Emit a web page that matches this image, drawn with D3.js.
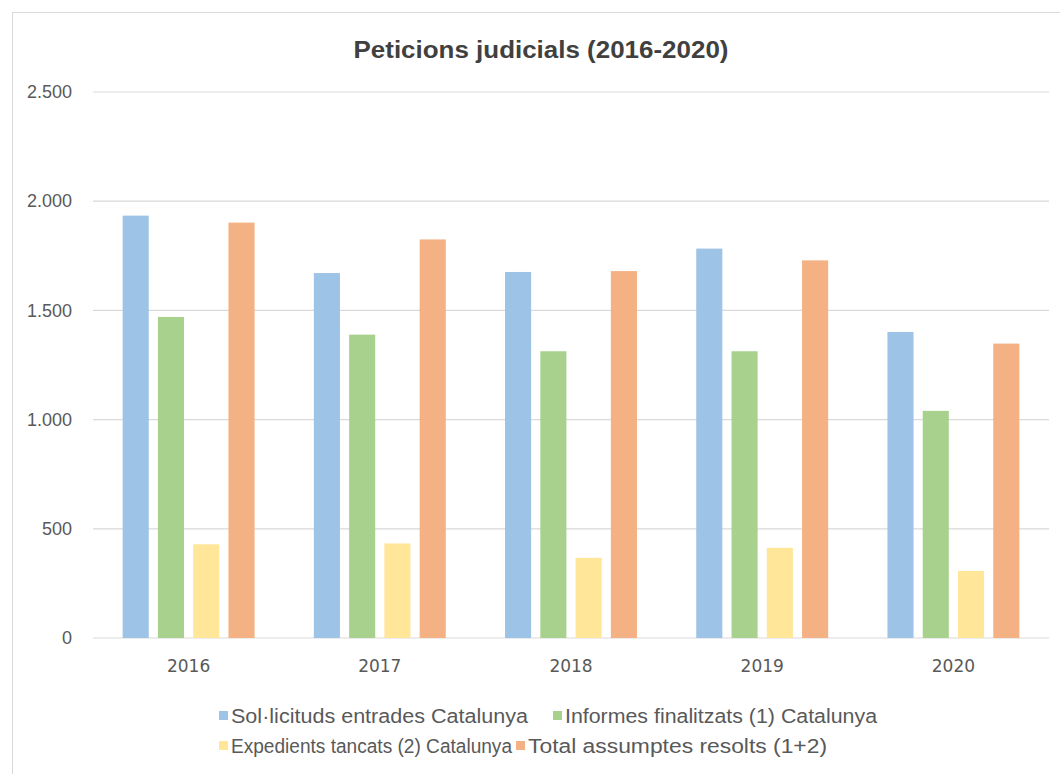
<!DOCTYPE html>
<html>
<head>
<meta charset="utf-8">
<script src="https://cdn.jsdelivr.net/npm/d3@7"></script>
<style>
  body { margin: 0; background: #fff; }
  svg { display: block; }
  .tick text { fill: #595959; }
</style>
</head>
<body>
<svg id="chart"></svg>
<script>
// Chart data
const years = ['2016', '2017', '2018', '2019', '2020'];
const seriesNames = [
    'Sol·licituds entrades Catalunya',
    'Informes finalitzats (1) Catalunya',
    'Expedients tancats (2) Catalunya',
    'Total assumptes resolts (1+2)'
];
const solicituds = [1934, 1671, 1676, 1783, 1401];
const informes = [1470, 1389, 1313, 1313, 1040];
const expedients = [429, 433, 367, 413, 307];
const totalResolts = [1902, 1825, 1680, 1729, 1348];
const yTicks = [0, 500, 1000, 1500, 2000, 2500];
const colors = ['#9dc3e6', '#a9d18e', '#ffe699', '#f4b183'];

const width = 1060, height = 774;
const margin = { top: 92, right: 11, bottom: 136, left: 93 };

const svg = d3.select('#chart')
    .attr('width', width)
    .attr('height', height);

// outer chart border
svg.append('rect')
    .attr('x', 12.5).attr('y', 12.5)
    .attr('width', width + 20).attr('height', height + 20)
    .attr('fill', 'none')
    .attr('stroke', '#d9d9d9');

svg.append('text')
    .attr('x', 541)
    .attr('y', 58)
    .attr('text-anchor', 'middle')
    .attr('font-family', 'Liberation Sans, Arial, sans-serif')
    .attr('font-size', 23)
    .attr('font-weight', 'bold')
    .attr('fill', '#404040')
    .attr('textLength', 375)
    .attr('lengthAdjust', 'spacingAndGlyphs')
    .text('Peticions judicials (2016-2020)');

const x = d3.scaleBand()
    .domain(years)
    .range([margin.left, width - margin.right])
    .paddingInner(0.31)
    .paddingOuter(0.155);

const xSub = d3.scaleBand()
    .domain(d3.range(seriesNames.length))
    .range([0, x.bandwidth()])
    .paddingInner(0.26);

const y = d3.scaleLinear()
    .domain([0, 2500])
    .range([height - margin.bottom, margin.top]);

// gridlines
svg.append('g')
    .selectAll('line')
    .data(yTicks)
    .enter()
    .append('line')
    .attr('x1', margin.left)
    .attr('x2', width - margin.right)
    .attr('y1', d => y(d))
    .attr('y2', d => y(d))
    .attr('stroke', '#d9d9d9')
    .attr('stroke-width', 1.2);

// y axis labels
const fmt = d => d3.format(',')(d).replace(/,/g, '.');
const yAxis = svg.append('g')
    .attr('transform', `translate(${margin.left - 21},0)`)
    .call(d3.axisLeft(y).tickValues(yTicks).tickFormat(fmt).tickSize(0).tickPadding(0));
yAxis.select('.domain').remove();
yAxis.selectAll('text')
    .attr('font-family', 'Liberation Sans, Arial, sans-serif')
    .attr('font-size', 18);

// bars
const allSeries = [solicituds, informes, expedients, totalResolts];
const groups = svg.append('g')
    .selectAll('g')
    .data(years)
    .enter()
    .append('g')
    .attr('transform', d => `translate(${x(d)},0)`);

groups.selectAll('rect')
    .data((d, i) => allSeries.map((s, k) => ({ k: k, v: s[i] })))
    .enter()
    .append('rect')
    .attr('x', d => xSub(d.k))
    .attr('y', d => y(d.v))
    .attr('width', xSub.bandwidth())
    .attr('height', d => y(0) - y(d.v))
    .attr('fill', d => colors[d.k]);

// x axis labels
const xAxis = svg.append('g')
    .attr('transform', `translate(0,${y(0) + 22})`)
    .call(d3.axisBottom(x).tickSize(0).tickPadding(0));
xAxis.select('.domain').remove();
xAxis.selectAll('text')
    .attr('font-family', 'DejaVu Sans, sans-serif')
    .attr('font-size', 17);

// legend
const legendPos = [
    { x: 219, y: 716, w: 297 },
    { x: 553, y: 716, w: 312 },
    { x: 219, y: 746, w: 281 },
    { x: 516, y: 746, w: 299 }
];
const legend = svg.append('g')
    .selectAll('g')
    .data(seriesNames)
    .enter()
    .append('g')
    .attr('transform', (d, i) => `translate(${legendPos[i].x},${legendPos[i].y})`);

legend.append('rect')
    .attr('x', 0).attr('y', -5)
    .attr('width', 9).attr('height', 9)
    .attr('fill', (d, i) => colors[i]);

legend.append('text')
    .attr('x', 12)
    .attr('y', 0)
    .attr('dy', '0.35em')
    .attr('font-family', 'Liberation Sans, Arial, sans-serif')
    .attr('font-size', 20)
    .attr('fill', '#595959')
    .attr('textLength', (d, i) => legendPos[i].w)
    .attr('lengthAdjust', 'spacingAndGlyphs')
    .text(d => d);
</script>
</body>
</html>
